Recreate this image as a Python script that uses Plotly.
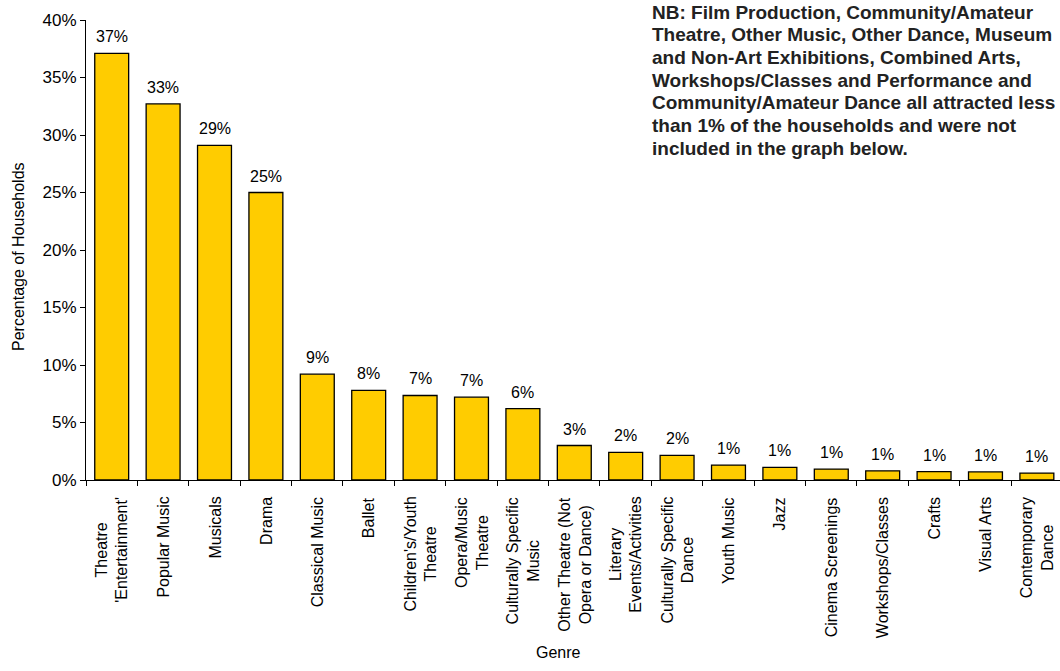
import plotly.graph_objects as go

# Share of households attending each genre (percent)
genres = [
    "Theatre<br>'Entertainment'",
    "Popular Music",
    "Musicals",
    "Drama",
    "Classical Music",
    "Ballet",
    "Children's/Youth<br>Theatre",
    "Opera/Music<br>Theatre",
    "Culturally Specific<br>Music",
    "Other Theatre (Not<br>Opera or Dance)",
    "Literary<br>Events/Activities",
    "Culturally Specific<br>Dance",
    "Youth Music",
    "Jazz",
    "Cinema Screenings",
    "Workshops/Classes",
    "Crafts",
    "Visual Arts",
    "Contemporary<br>Dance",
]
households_pct = [37.1, 32.7, 29.1, 25.0, 9.2, 7.8, 7.35, 7.2, 6.2, 3.0,
                  2.4, 2.15, 1.3, 1.1, 0.95, 0.8, 0.72, 0.7, 0.6]

y_ticks = [0, 5, 10, 15, 20, 25, 30, 35, 40]

note_lines = [
    "NB: Film Production, Community/Amateur",
    "Theatre, Other Music, Other Dance, Museum",
    "and Non-Art Exhibitions, Combined Arts,",
    "Workshops/Classes and Performance and",
    "Community/Amateur Dance all attracted less",
    "than 1% of the households and were not",
    "included in the graph below.",
]

FONT = "Liberation Sans, Arial, Helvetica, sans-serif"
W, H = 1060, 671
ML, MR, MT, MB = 86, 0, 20, 191
PW, PH = W - ML - MR, H - MT - MB


def px_x(x):
    return (x - ML) / PW


def px_y(y):
    return (H - MB - y) / PH


fig = go.Figure(
    go.Bar(
        x=genres,
        y=households_pct,
        marker=dict(color="#FFCC00", line=dict(color="#000000", width=1.3)),
        hoverinfo="skip",
    )
)

annotations = []
# value labels above each bar
for g, v in zip(genres, households_pct):
    annotations.append(dict(
        x=g, xref="x", y=v, yref="y", yanchor="bottom", xanchor="center",
        yshift=6, text="%.0f%%" % v, showarrow=False,
        font=dict(family=FONT, size=16, color="#000000"),
    ))
# rotated category labels under the axis
for g in genres:
    annotations.append(dict(
        x=g, xref="x", y=0, yref="paper", yanchor="top", xanchor="center",
        yshift=-15, text=g, textangle=-90, align="center", showarrow=False,
        font=dict(family=FONT, size=16, color="#000000"),
    ))

annotations.append(dict(
    x=px_x(558), y=px_y(652), xref="paper", yref="paper",
    xanchor="center", yanchor="middle", text="Genre", showarrow=False,
    font=dict(family=FONT, size=16, color="#000000"),
))
annotations.append(dict(
    x=px_x(18), y=px_y(257), xref="paper", yref="paper",
    xanchor="center", yanchor="middle", text="Percentage of Households",
    textangle=-90, showarrow=False,
    font=dict(family=FONT, size=16, color="#000000"),
))
for i, line in enumerate(note_lines):
    annotations.append(dict(
        x=px_x(650), y=px_y(12 + 22.7 * i), xref="paper", yref="paper",
        xanchor="left", yanchor="middle", text="<b>%s</b>" % line,
        showarrow=False,
        font=dict(family=FONT, size=19, color="#222222"),
    ))

fig.update_layout(
    width=W, height=H,
    margin=dict(l=ML, r=MR, t=MT, b=MB, pad=0),
    paper_bgcolor="#FFFFFF", plot_bgcolor="#FFFFFF",
    bargap=0.34,
    showlegend=False,
    annotations=annotations,
    font=dict(family=FONT, color="#000000"),
)
fig.update_xaxes(
    type="category", range=[-0.5, 18.45],
    showticklabels=False, showgrid=False, zeroline=False,
    showline=True, linecolor="#000000", linewidth=1,
    ticks="outside", tickson="boundaries", ticklen=5, tickcolor="#000000",
)
fig.update_yaxes(
    range=[0, 40], tickvals=y_ticks, ticktext=["%d%%" % t for t in y_ticks],
    showgrid=False, zeroline=False,
    showline=True, linecolor="#000000", linewidth=1,
    ticks="outside", ticklen=5, tickcolor="#000000",
    tickfont=dict(family=FONT, size=17, color="#000000"),
)

fig.write_html("out.html")
